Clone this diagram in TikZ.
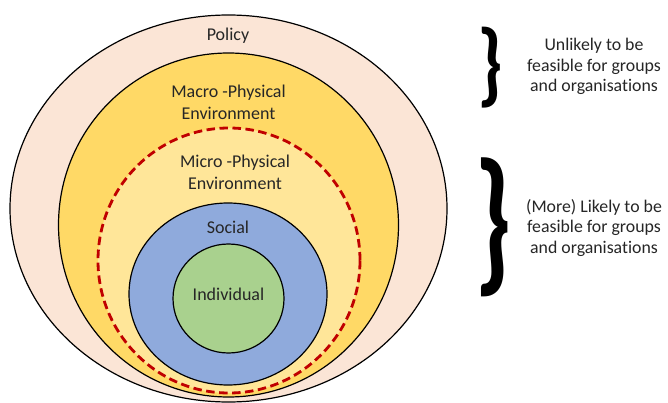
\documentclass[tikz,border=0pt]{standalone}
\usepackage{fontspec}
\setmainfont[Ligatures=NoCommon]{Carlito}
\usetikzlibrary{shapes.geometric}
\definecolor{policyc}{HTML}{FBE5D6}
\definecolor{macroc}{HTML}{FFD966}
\definecolor{microc}{HTML}{FFE699}
\definecolor{socialc}{HTML}{8FAADC}
\definecolor{indivc}{HTML}{A9D18E}
\definecolor{dashred}{HTML}{C00000}
\definecolor{txt}{HTML}{262626}
\begin{document}
\begin{tikzpicture}[x=1pt,y=-1pt,
  ring/.style={ellipse, draw=black, line width=1.2pt, inner sep=0pt, outer sep=0pt},
  lbl/.style={font=\fontsize{18}{21.8}\selectfont, align=center, inner sep=0pt, text=txt},
  side/.style={font=\fontsize{17.8}{20.8}\selectfont, align=center, inner sep=0pt, text=txt},
  bracenode/.style={inner sep=0pt, outer sep=0pt, font=\bfseries}]
\useasboundingbox (0,0) rectangle (668,403);
\fill[white] (0,0) rectangle (668,403);
\node[ring, fill=policyc, minimum width=437pt, minimum height=387pt] (policy) at (228.5,208.5) {};
\node[ring, fill=macroc, minimum width=340pt, minimum height=344pt] (macro) at (228.5,225) {};
\node[ring, draw=dashred, fill=microc, line width=2.8pt, dash pattern=on 8.5pt off 4.5pt, minimum width=262pt, minimum height=265pt] (micro) at (229,260.5) {};
\node[ring, fill=socialc, minimum width=198pt, minimum height=182pt] (social) at (228,294) {};
\node[ring, fill=indivc, minimum width=111pt, minimum height=109pt] (indiv) at (228.5,298.5) {};
\node[lbl] (tpolicy) at (228,36) {Policy};
\node[lbl] (tmacro) at (228.5,102) {Macro -Physical\\Environment};
\node[lbl] (tmicro) at (235,172.5) {Micro -Physical\\Environment};
\node[lbl] (tsocial) at (228,227.5) {Social};
\node[lbl] (tindiv) at (228.5,294) {Individual};
\node[bracenode] (brace1) at (490.5,67.5) {\resizebox*{26pt}{81pt}{\}}};
\node[bracenode] (brace2) at (493.5,227.5) {\resizebox*{38pt}{139pt}{\}}};
\node[side] (t1) at (594,66.5) {Unlikely to be\\feasible for groups\\and organisations};
\node[side] (t2) at (594,228) {(More) Likely to be\\feasible for groups\\and organisations};
\end{tikzpicture}
\end{document}
